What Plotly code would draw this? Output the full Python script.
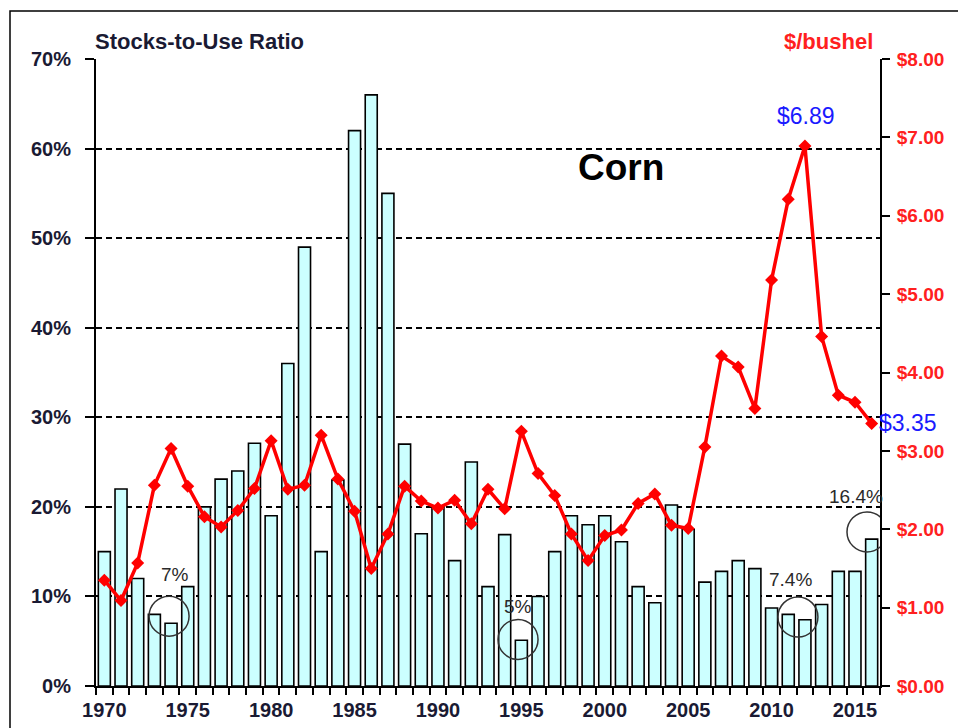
import plotly.graph_objects as go

years = list(range(1970, 2017))
stocks_to_use = [15, 22, 12, 8, 7, 11.1, 20, 23.1, 24, 27.1,
                 19, 36, 49, 15, 23, 62, 66, 55, 27, 17,
                 20, 14, 25, 11.1, 16.9, 5.1, 10, 15, 19, 18,
                 19, 16.1, 11.1, 9.3, 20.2, 17.5, 11.6, 12.8, 14, 13.1,
                 8.7, 8.0, 7.4, 9.1, 12.8, 12.8, 16.4]
price = [1.35, 1.09, 1.57, 2.56, 3.03, 2.55, 2.16, 2.03, 2.24, 2.52,
         3.13, 2.51, 2.56, 3.20, 2.64, 2.23, 1.50, 1.94, 2.55, 2.36,
         2.27, 2.37, 2.07, 2.51, 2.26, 3.25, 2.71, 2.43, 1.94, 1.60,
         1.92, 1.99, 2.33, 2.45, 2.05, 2.01, 3.05, 4.21, 4.07, 3.54,
         5.18, 6.21, 6.89, 4.46, 3.71, 3.62, 3.35]

pct_labels = ["7%", "5%", "7.4%", "16.4%"]
pct_label_x = [1974.24, 1994.8, 2011.16, 2015.06]
pct_label_y = [12.5, 8.9, 11.9, 21.2]
circle_x = [1973.88, 1994.8, 2011.58, 2015.72]
circle_y = [7.8, 5.2, 7.7, 17.2]

x_tick_vals = [1970, 1975, 1980, 1985, 1990, 1995, 2000, 2005, 2010, 2015]

fig = go.Figure()
fig.add_trace(go.Bar(
    x=years, y=stocks_to_use, width=0.72,
    marker=dict(color="#CCFFFF", line=dict(color="black", width=1.6)),
    yaxis="y", showlegend=False, hoverinfo="skip"))
fig.add_trace(go.Scatter(
    x=years, y=price, mode="lines+markers",
    line=dict(color="#FF0000", width=3.5),
    marker=dict(symbol="diamond", size=10, color="#FF0000"),
    yaxis="y2", showlegend=False, cliponaxis=False))

font_family = "Liberation Sans, Arial, sans-serif"

fig.update_layout(
    width=958, height=728,
    margin=dict(l=96, r=78, t=59, b=42, autoexpand=False),
    paper_bgcolor="white", plot_bgcolor="white",
    font=dict(family=font_family),
    bargap=0.28,
    xaxis=dict(
        range=[1969.5, 2016.5], tickmode="array", tickvals=x_tick_vals,
        ticks="", showgrid=False, zeroline=False, automargin=False,
        showline=True, linecolor="black", linewidth=2,
        tickfont=dict(family=font_family, size=20, color="#1a1a33", weight="bold"),
        ticklabelstandoff=5,
        minor=dict(tick0=1969.5, dtick=1, ticks="outside", ticklen=7,
                   tickwidth=2, tickcolor="black", showgrid=False),
    ),
    yaxis=dict(
        range=[0, 70], dtick=10, ticksuffix="%", automargin=False,
        showgrid=True, gridcolor="black", gridwidth=1.5, griddash="6px,4px",
        zeroline=False, showline=True, linecolor="black", linewidth=2,
        ticks="outside", ticklen=9, tickwidth=2, tickcolor="black",
        tickfont=dict(family=font_family, size=20, color="#1a1a33", weight="bold"),
        ticklabelstandoff=10,
    ),
    yaxis2=dict(
        range=[0, 8], dtick=1, tickprefix="$", tickformat=".2f", automargin=False,
        overlaying="y", side="right", showgrid=False, zeroline=False,
        showline=True, linecolor="black", linewidth=2,
        ticks="outside", ticklen=8, tickwidth=2, tickcolor="black",
        tickfont=dict(family=font_family, size=19, color="#FF2020", weight="bold"),
        ticklabelstandoff=3,
    ),
)

annotations = [
    dict(text="<b>Stocks-to-Use Ratio</b>", xref="paper", yref="paper",
         x=-0.004, y=1.0287, xanchor="left", yanchor="middle", showarrow=False,
         font=dict(size=22, color="#1a1a33")),
    dict(text="<b>$/bushel</b>", xref="paper", yref="paper",
         x=0.9936, y=1.0287, xanchor="right", yanchor="middle", showarrow=False,
         font=dict(size=22, color="#FF2020")),
    dict(text="<b>Corn</b>", xref="x", yref="y", x=2000.97, y=57.9,
         xanchor="center", yanchor="middle", showarrow=False,
         font=dict(size=37, color="black")),
    dict(text="$6.89", xref="x", yref="y2", x=2012.06, y=7.27,
         xanchor="center", yanchor="middle", showarrow=False,
         font=dict(size=23, color="#1a1aff")),
    dict(text="$3.35", xref="paper", yref="paper", x=(908 - 96) / 784, y=(686 - 423) / 627,
         xanchor="center", yanchor="middle", showarrow=False,
         font=dict(size=23, color="#1a1aff")),
]
for t, lx, ly in zip(pct_labels, pct_label_x, pct_label_y):
    annotations.append(dict(text=t, xref="x", yref="y", x=lx, y=ly,
                            xanchor="center", yanchor="middle", showarrow=False,
                            font=dict(size=19, color="#2a2a2a")))
fig.update_layout(annotations=annotations)

shapes = [
    dict(type="rect", xref="paper", yref="paper",
         x0=(10 - 96) / 784, x1=1.3, y0=-0.3, y1=(686 - 11) / 627,
         line=dict(color="black", width=1.5), fillcolor="rgba(0,0,0,0)", layer="below"),
]
for cx, cy in zip(circle_x, circle_y):
    shapes.append(dict(type="circle", xref="x", yref="y",
                       xsizemode="pixel", ysizemode="pixel",
                       xanchor=cx, yanchor=cy, x0=-20, x1=20, y0=-20, y1=20,
                       line=dict(color="#333333", width=1.5)))
fig.update_layout(shapes=shapes)

fig.write_html("out.html", config={"displayModeBar": False},
               post_script="document.body.style.margin='0';document.body.style.overflow='hidden';")
